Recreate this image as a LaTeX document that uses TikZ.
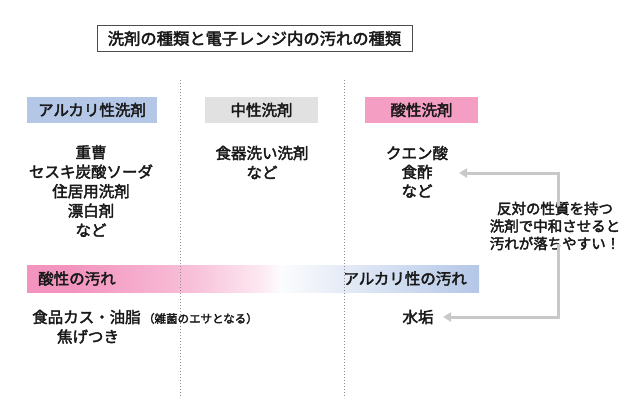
\documentclass[tikz,border=0pt]{standalone}
\usepackage{fontspec}
\setmainfont{Noto Sans CJK JP}[FakeBold=2.6]
\usetikzlibrary{arrows.meta}
\definecolor{pinkc}{RGB}{244,158,196}
\definecolor{bandpink}{RGB}{243,148,190}
\definecolor{bluec}{RGB}{180,199,231}
\definecolor{grayc}{RGB}{225,225,225}
\definecolor{arrc}{RGB}{200,200,200}
\definecolor{txt}{RGB}{25,25,25}
\pgfdeclarehorizontalshading{bandshade}{100bp}{color(0bp)=(bandpink); color(30bp)=(bandpink); color(43bp)=(bandpink!60!white); color(51bp)=(bandpink!20!white); color(53bp)=(white!95!bluec); color(60bp)=(bluec!35!white); color(75bp)=(bluec); color(100bp)=(bluec)}
\tikzset{
  base/.style={text=txt, inner sep=0pt},
  big/.style={base, font=\fontsize{15.5}{19.5}\selectfont, align=center},
  head/.style={big, minimum height=26pt},
  titlebox/.style={base, font=\fontsize{16.3}{19.5}\selectfont, draw=black!70, line width=1pt, minimum width=315pt, minimum height=26pt},
  divider/.style={draw=black!45, dotted, line width=1pt},
  arr/.style={draw=arrc, line width=3pt, -{Triangle[length=8pt,width=9pt]}},
  note/.style={base, font=\fontsize{14.5}{17.5}\selectfont, align=center},
  small/.style={base, font=\fontsize{11.5}{14}\selectfont}
}
\begin{document}
\begin{tikzpicture}[x=1pt,y=-1pt]
\useasboundingbox (0,0) rectangle (640,400);
% title
\node[titlebox] (title) at (254.5,38.5) {洗剤の種類と電子レンジ内の汚れの種類};
% dividers
\coordinate (d1t) at (180,80); \coordinate (d1b) at (180,398);
\coordinate (d2t) at (344,80); \coordinate (d2b) at (344,398);
% gradient band
\shade[shading=bandshade] (27,265) rectangle (479,292);
\draw[divider] (d1t) -- (d1b);
\draw[divider] (d2t) -- (d2b);
% headers
\node[head, fill=bluec, minimum width=130pt] (alkhead) at (92,110) {アルカリ性洗剤};
\node[head, fill=grayc, minimum width=113pt] (neuhead) at (261.5,110) {中性洗剤};
\node[head, fill=pinkc, minimum width=113pt] (acidhead) at (421.5,110) {酸性洗剤};
% lists
\node[big] (alklist) at (91,191) {重曹\\セスキ炭酸ソーダ\\住居用洗剤\\漂白剤\\など};
\node[big] (neulist) at (262,162.5) {食器洗い洗剤\\など};
\node[big] (acid1) at (417,153) {クエン酸};
\node[big] (acid2) at (417,172) {食酢};
\node[big] (acid3) at (417,191) {など};
% band labels
\node[big, anchor=west] (acidsoil) at (38,278.5) {酸性の汚れ};
\node[big, anchor=east] (alksoil) at (467,278.5) {アルカリ性の汚れ};
% soils
\node[big, anchor=west] (food) at (32,317) {食品カス・油脂};
\node[small, anchor=base west] (foodnote) at ([xshift=2pt]food.base east) {（雑菌のエサとなる）};
\node[big] (koge) at (88,336.5) {焦げつき};
\node[big] (mizuaka) at (418,317) {水垢};
% note and arrows
\node[note] (note) at (555,226) {反対の性質を持つ\\洗剤で中和させると\\汚れが落ちやすい！};
\coordinate (tipA) at (459,173);
\coordinate (tipB) at (443,317);
\draw[arr] ([xshift=3pt,yshift=-4pt]note.north) |- (tipA);
\draw[arr] ([xshift=3pt,yshift=6pt]note.south) |- (tipB);
\end{tikzpicture}
\end{document}
